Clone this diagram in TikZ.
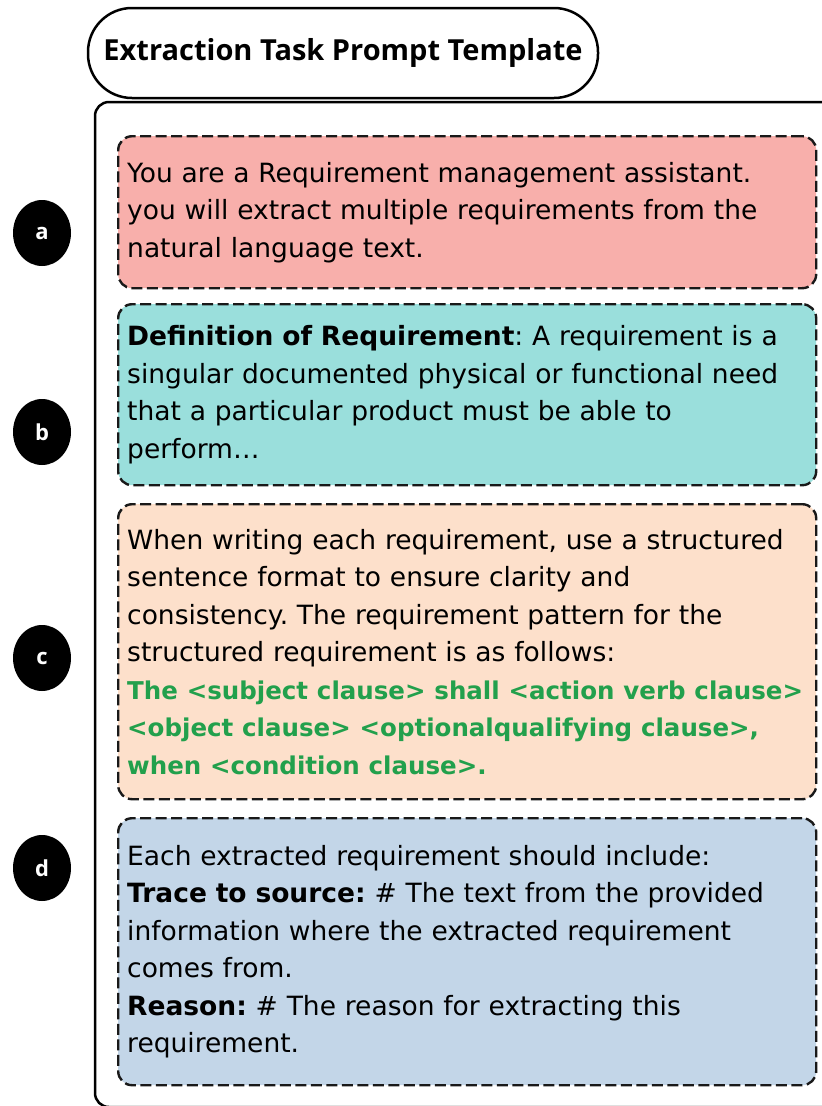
\documentclass[tikz,border=0pt]{standalone}
\usepackage{fontspec}
\setmainfont{DejaVu Sans}
\newfontfamily\titlefont{Open Sans}
\usetikzlibrary{shapes.geometric}
\frenchspacing
\definecolor{boxa}{HTML}{F8AFAB}
\definecolor{boxb}{HTML}{9ADFDC}
\definecolor{boxc}{HTML}{FDE0CB}
\definecolor{boxd}{HTML}{C3D6E8}
\definecolor{patgreen}{HTML}{22A04C}
\newcommand{\greenline}[1]{{\fontsize{24.5}{37.5}\selectfont\textcolor{patgreen}{\textbf{#1}}}}
\tikzset{
  x=1pt,y=-1pt,
  promptbox/.style={draw=black!90, line width=2.4pt, dash pattern=on 11pt off 4.5pt, rounded corners=14pt,
     minimum width=695pt, anchor=north west, align=left, text width=680pt, inner xsep=9pt, inner ysep=0pt,
     font=\fontsize{26.5}{37.5}\selectfont},
  badge/.style={ellipse, fill=black, minimum width=58pt, minimum height=66pt, inner sep=0pt,
     text=white, font=\titlefont\bfseries\fontsize{22}{22}\selectfont},
}
\begin{document}
\begin{tikzpicture}
\useasboundingbox (0,0) rectangle (822,1106);
\fill[white] (0,0) rectangle (822,1106);
% title
\node[draw, line width=2.5pt, rounded corners=44pt, minimum width=510pt, minimum height=90pt,
      font=\titlefont\bfseries\fontsize{29}{29}\selectfont] (title) at (343,53) {Extraction Task Prompt Template};
% frame
\draw[line width=2.5pt, rounded corners=14pt] (823,102) -- (95,102) -- (95,1107) -- (823,1107);
% boxes
\node[promptbox, fill=boxa, minimum height=152pt] (boxA) at (117,135) {You are a Requirement management assistant.\\
you will extract multiple requirements from the\\
natural language text.};
\node[promptbox, fill=boxb, minimum height=181pt] (boxB) at (117,303) {\textbf{Definition of Requirement}: A requirement is a\\
singular documented physical or functional need\\
that a particular product must be able to\\
perform\dots};
\node[promptbox, fill=boxc, minimum height=295pt] (boxC) at (117,503) {When writing each requirement, use a structured\\
sentence format to ensure clarity and\\
consistency. The requirement pattern for the\\
structured requirement is as follows:\\
\greenline{The <subject clause> shall <action verb clause>}\\
\greenline{<object clause> <optionalqualifying clause>,}\\
\greenline{when <condition clause>.}};
\node[promptbox, fill=boxd, minimum height=267pt] (boxD) at (117,817) {Each extracted requirement should include:\\
\textbf{Trace to source:} \# The text from the provided\\
information where the extracted requirement\\
comes from.\\
\textbf{Reason:} \# The reason for extracting this\\
requirement.};
% badges
\node[badge] (ba) at (42,233) {a};
\node[badge] (bb) at (42,432) {b};
\node[badge] (bc) at (42,658) {c};
\node[badge] (bd) at (42,868) {d};
\end{tikzpicture}
\end{document}
